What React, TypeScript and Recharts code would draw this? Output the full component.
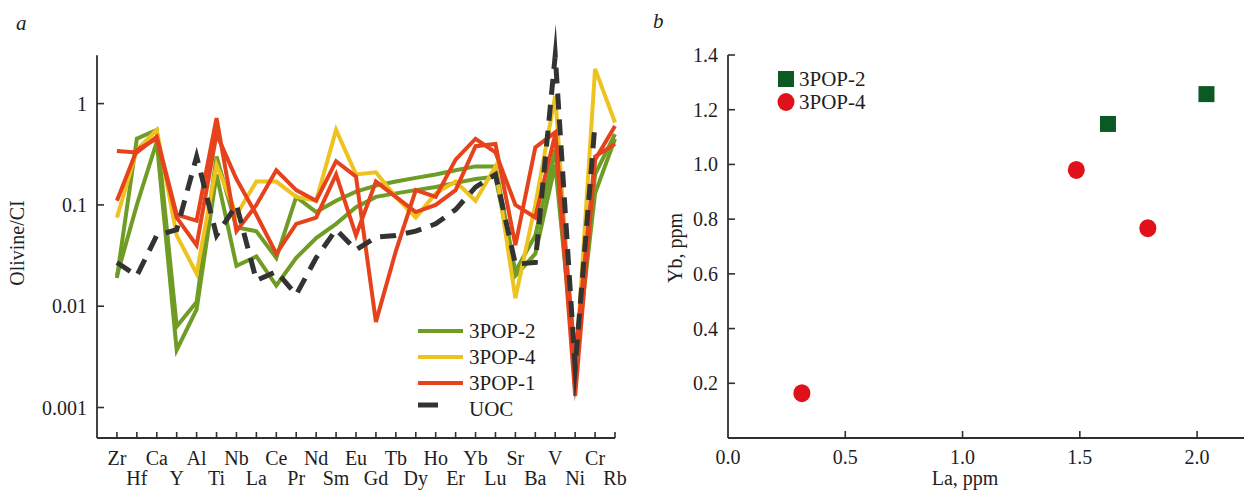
import React from 'react';
import { LineChart, Line, XAxis, YAxis, ReferenceLine, ScatterChart, Scatter } from 'recharts';

const FONT = '"Liberation Serif", "Times New Roman", Times, serif';
const AXIS = '#2f2f2f';
const TEXT = '#1e1e1e';

const GREEN = '#6f9c24';
const YELLOW = '#eec21f';
const RED = '#e6431c';
const UOC_C = '#333333';
const SQ_GREEN = '#0b5a23';
const DOT_RED = '#e1111c';

// ---- panel a: olivine normalised to CI ----
const elements = ['Zr', 'Hf', 'Ca', 'Y', 'Al', 'Ti', 'Nb', 'La', 'Ce', 'Pr', 'Nd', 'Sm', 'Eu', 'Gd', 'Tb', 'Dy', 'Ho', 'Er', 'Yb', 'Lu', 'Sr', 'Ba', 'V', 'Ni', 'Cr', 'Rb'];

const pop2a = [0.019, 0.45, 0.55, 0.0063, 0.011, 0.3, 0.06, 0.055, 0.03, 0.12, 0.085, 0.11, 0.135, 0.155, 0.17, 0.185, 0.2, 0.22, 0.24, 0.24, 0.022, 0.05, 0.35, 0.003, 0.2, 0.5];
const pop2b = [0.02, 0.1, 0.42, 0.0037, 0.0093, 0.2, 0.025, 0.031, 0.016, 0.03, 0.047, 0.065, 0.095, 0.12, 0.13, 0.14, 0.15, 0.165, 0.18, 0.19, 0.02, 0.033, 0.25, 0.0025, 0.13, 0.45];
const pop4 = [0.075, 0.35, 0.55, 0.05, 0.021, 0.25, 0.08, 0.17, 0.17, 0.12, 0.11, 0.55, 0.2, 0.21, 0.12, 0.075, 0.13, 0.17, 0.11, 0.24, 0.012, 0.1, 1.2, 0.002, 2.2, 0.65];
const pop1a = [0.34, 0.33, 0.47, 0.08, 0.07, 0.72, 0.055, 0.1, 0.22, 0.14, 0.11, 0.27, 0.19, 0.007, 0.035, 0.14, 0.12, 0.28, 0.45, 0.33, 0.1, 0.075, 0.5, 0.0013, 0.28, 0.6];
const pop1b = [0.11, 0.35, 0.45, 0.075, 0.04, 0.5, 0.18, 0.08, 0.033, 0.065, 0.075, 0.2, 0.05, 0.17, 0.12, 0.085, 0.1, 0.14, 0.38, 0.4, 0.04, 0.37, 0.52, 0.003, 0.3, 0.4];
const uoc = [0.027, 0.02, 0.05, 0.057, 0.3, 0.05, 0.1, 0.018, 0.022, 0.013, 0.03, 0.057, 0.036, 0.048, 0.05, 0.055, 0.065, 0.09, 0.15, 0.2, 0.026, 0.027, 3.0, 0.0025, 0.65, null];

const logTicks = [0.001, 0.01, 0.1, 1];

const legendA = [
  { name: '3POP-2', color: GREEN, dash: false },
  { name: '3POP-4', color: YELLOW, dash: false },
  { name: '3POP-1', color: RED, dash: false },
  { name: 'UOC', color: UOC_C, dash: true },
];

// ---- panel b: Yb vs La ----
const pop2La = [1.62, 2.04];
const pop2Yb = [1.148, 1.257];
const pop4La = [0.315, 1.485, 1.79];
const pop4Yb = [0.164, 0.98, 0.767];
const laTicks = [0, 0.5, 1, 1.5, 2];
const ybTicks = [0.2, 0.4, 0.6, 0.8, 1, 1.2, 1.4];

const rowsA = elements.map((el, i) => ({
  i,
  el,
  pop2a: pop2a[i],
  pop2b: pop2b[i],
  pop4: pop4[i],
  pop1a: pop1a[i],
  pop1b: pop1b[i],
  uoc: uoc[i],
}));
const elementTicks = elements.map((_, i) => i);

const pop2Pts = pop2La.map((x, i) => ({ x, y: pop2Yb[i] }));
const pop4Pts = pop4La.map((x, i) => ({ x, y: pop4Yb[i] }));

const ElementTick = (props: any) => {
  const { x, y, payload } = props;
  const i = payload.value as number;
  const second = i % 2 === 1;
  return (
    <g>
      <line x1={x} x2={x} y1={y} y2={y - 6} stroke={AXIS} strokeWidth={1.6} />
      <text x={x} y={y + (second ? 47 : 27)} textAnchor="middle" fontFamily={FONT} fontSize={20} fill={TEXT}>
        {elements[i]}
      </text>
    </g>
  );
};

const LeftTick = (fmt: (v: number) => string) => (props: any) => {
  const { x, y, payload } = props;
  return (
    <g>
      <line x1={x} x2={x + 7} y1={y} y2={y} stroke={AXIS} strokeWidth={1.6} />
      <text x={x - 10} y={y + 7} textAnchor="end" fontFamily={FONT} fontSize={20} fill={TEXT}>
        {fmt(payload.value)}
      </text>
    </g>
  );
};

const LaTick = (props: any) => {
  const { x, y, payload } = props;
  return (
    <g>
      {payload.value > 0 && <line x1={x} x2={x} y1={y} y2={y - 7} stroke={AXIS} strokeWidth={1.6} />}
      <text x={x} y={y + 26} textAnchor="middle" fontFamily={FONT} fontSize={20} fill={TEXT}>
        {payload.value.toFixed(1)}
      </text>
    </g>
  );
};

const Square = (props: any) => (
  <rect x={props.cx - 8} y={props.cy - 8} width={16} height={16} fill={SQ_GREEN} />
);
const Dot = (props: any) => <ellipse cx={props.cx} cy={props.cy} rx={8.5} ry={9} fill={DOT_RED} />;

const lineProps = {
  type: 'linear' as const,
  dot: false,
  activeDot: false,
  isAnimationActive: false,
  strokeWidth: 4,
};

const txt = { fontFamily: FONT, fill: TEXT };

export default function App() {
  return (
    <div style={{ position: 'absolute', left: 0, top: 0, width: 1244, height: 490, background: '#fff', overflow: 'hidden' }}>
      <div style={{ position: 'absolute', left: 0, top: 0 }}>
        <LineChart width={640} height={490} data={rowsA} margin={{ top: 18, right: 25, bottom: 0, left: 0 }}>
          <XAxis
            type="number"
            dataKey="i"
            domain={[-1, 25]}
            ticks={elementTicks}
            interval={0}
            height={52}
            tickSize={0}
            tickMargin={0}
            tick={ElementTick}
            stroke={AXIS}
            strokeWidth={1.8}
          />
          <YAxis
            scale="log"
            domain={[0.0005, 7]}
            allowDataOverflow
            ticks={logTicks}
            interval={0}
            width={97}
            axisLine={false}
            tickSize={0}
            tickMargin={0}
            tick={LeftTick((v) => String(v))}
          />
          <ReferenceLine
            segment={[{ x: -1, y: 0.0005 }, { x: -1, y: 3 }]}
            stroke={AXIS}
            strokeWidth={1.8}
            ifOverflow="visible"
          />
          <Line {...lineProps} dataKey="pop2a" stroke={GREEN} />
          <Line {...lineProps} dataKey="pop2b" stroke={GREEN} />
          <Line {...lineProps} dataKey="pop4" stroke={YELLOW} />
          <Line {...lineProps} dataKey="pop1b" stroke={RED} />
          <Line {...lineProps} dataKey="pop1a" stroke={RED} />
          <Line
            {...lineProps}
            dataKey="uoc"
            stroke={UOC_C}
            strokeWidth={5}
            strokeDasharray="16 10"
            strokeMiterlimit={14}
          />
        </LineChart>
      </div>

      <div style={{ position: 'absolute', left: 640, top: 0 }}>
        <ScatterChart width={604} height={490} margin={{ top: 55, right: 0, bottom: 0, left: 0 }}>
          <XAxis
            type="number"
            dataKey="x"
            domain={[0, 2.2]}
            ticks={laTicks}
            interval={0}
            height={52}
            tickSize={0}
            tickMargin={0}
            tick={LaTick}
            stroke={AXIS}
            strokeWidth={1.8}
          />
          <YAxis
            type="number"
            dataKey="y"
            domain={[0, 1.4]}
            ticks={ybTicks}
            interval={0}
            width={88}
            tickSize={0}
            tickMargin={0}
            tick={LeftTick((v) => v.toFixed(1))}
            stroke={AXIS}
            strokeWidth={1.8}
          />
          <Scatter data={pop2Pts} shape={Square} isAnimationActive={false} />
          <Scatter data={pop4Pts} shape={Dot} isAnimationActive={false} />
        </ScatterChart>
      </div>

      {/* titles, axis names and legends */}
      <svg width={1244} height={490} style={{ position: 'absolute', left: 0, top: 0, pointerEvents: 'none' }}>
        <text x={16} y={30} fontSize={21} fontStyle="italic" {...txt}>a</text>
        <text x={653} y={28} fontSize={21} fontStyle="italic" {...txt}>b</text>
        <text transform="translate(24,243) rotate(-90)" textAnchor="middle" fontSize={20} {...txt}>Olivine/CI</text>
        <text transform="translate(682,248) rotate(-90)" textAnchor="middle" fontSize={20} {...txt}>Yb, ppm</text>
        <text x={965} y={485} textAnchor="middle" fontSize={20} {...txt}>La, ppm</text>

        {legendA.map((d, k) => {
          const cy = 331 + k * 26;
          return (
            <g key={d.name}>
              {d.dash ? (
                <line x1={418} x2={438} y1={cy - 4} y2={cy - 4} stroke={d.color} strokeWidth={5} />
              ) : (
                <line x1={418} x2={463} y1={cy} y2={cy} stroke={d.color} strokeWidth={4} />
              )}
              <text x={469} y={cy + 7} fontSize={21} {...txt}>{d.name}</text>
            </g>
          );
        })}

        <rect x={778} y={71} width={16} height={16} fill={SQ_GREEN} />
        <text x={799} y={86} fontSize={21} {...txt}>3POP-2</text>
        <ellipse cx={786} cy={102} rx={8.5} ry={9} fill={DOT_RED} />
        <text x={799} y={109} fontSize={21} {...txt}>3POP-4</text>
      </svg>
    </div>
  );
}
